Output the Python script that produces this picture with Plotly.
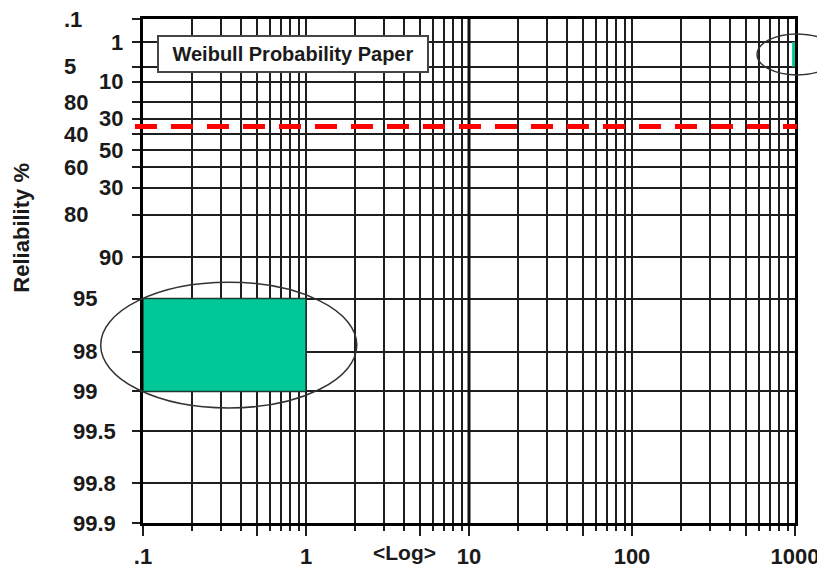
import math
import plotly.graph_objects as go

# ---------------- data ----------------
R_values = [0.1, 1, 5, 10, 20, 30, 40, 50, 60, 70, 80, 90, 95, 98, 99, 99.5, 99.8, 99.9]
R_labels = [".1", "1", "5", "10", "80", "30", "40", "50", "60", "30", "80", "90",
            "95", "98", "99", "99.5", "99.8", "99.9"]
x_major = [0.1, 0.5, 1, 5, 10, 50, 100, 500, 1000]
x_major_labels = [".1", "", "1", "", "10", "", "100", "", "1000"]
x_minor = [m * d for d in [0.1, 1, 10, 100] for m in [2, 3, 4, 6, 7, 8, 9]]
title_text = "Weibull Probability Paper"
y_title = "Reliability %"
x_title = "&lt;Log&gt;"
highlight_x = [0.1, 1]
highlight_R = [95, 99]
corner_x = [960, 1000]
corner_R = [1, 5]
ref_R = 35
ellipse1_x = [0.055, 2.05]
ellipse1_R = [93.4, 99.25]
ellipse2_x = [585, 1811]
ellipse2_R = [0.49, 7.5]
x_range = [0.1, 1000]
R_range = [99.9, 0.1]


def t(R):
    return math.log(-math.log(R / 100.0))


def xdom(x):
    lo, hi = math.log10(x_range[0]), math.log10(x_range[1])
    return (math.log10(x) - lo) / (hi - lo)


FONT = "Liberation Sans, Arial, sans-serif"
GRID = "#1e1e1e"
GW = 1.8

fig = go.Figure()
fig.add_trace(go.Scatter(x=x_range, y=[t(r) for r in R_range], mode="markers",
                         marker=dict(opacity=0), hoverinfo="skip", showlegend=False))

shapes = []
shapes.append(dict(type="line", xref="x", yref="y", x0=10, x1=10,
                   y0=t(R_range[0]), y1=t(R_range[1]),
                   line=dict(color="#111", width=3), layer="above"))
shapes.append(dict(type="rect", xref="x", yref="y",
                   x0=highlight_x[0], x1=highlight_x[1],
                   y0=t(highlight_R[0]), y1=t(highlight_R[1]),
                   fillcolor="#00C896", line=dict(color="#1d3b33", width=1.5), layer="above"))
shapes.append(dict(type="rect", xref="x", yref="y",
                   x0=corner_x[0], x1=corner_x[1],
                   y0=t(corner_R[0]), y1=t(corner_R[1]),
                   fillcolor="#00C896", line=dict(width=0), layer="above"))
for ex, eR in [(ellipse1_x, ellipse1_R), (ellipse2_x, ellipse2_R)]:
    shapes.append(dict(type="circle", xref="x domain", yref="y",
                       x0=xdom(ex[0]), x1=xdom(ex[1]), y0=t(eR[0]), y1=t(eR[1]),
                       line=dict(color="#333", width=1.5), layer="above"))
shapes.append(dict(type="line", xref="x domain", yref="y", x0=-0.0123, x1=1.003,
                   y0=t(ref_R), y1=t(ref_R),
                   line=dict(color="#FF0000", width=5, dash="22px,14px"), layer="above"))

annotations = []
for i, (rv, lab) in enumerate(zip(R_values, R_labels)):
    if i >= 12:
        ax_x, anchor = -0.1104, "left"
    elif i % 2 == 0:
        ax_x, anchor = -0.1242, "left"
    else:
        ax_x, anchor = -0.0276, "right"
    annotations.append(dict(xref="paper", yref="y", x=ax_x, y=t(rv), text=lab,
                            xanchor=anchor, yanchor="middle", showarrow=False,
                            font=dict(family=FONT, size=22, color="#1a1a1a", weight="bold")))
annotations.append(dict(xref="paper", yref="paper", x=-0.1856, y=0.586, text=y_title,
                        textangle=-90, showarrow=False, xanchor="center", yanchor="middle",
                        font=dict(family=FONT, size=22, color="#1a1a1a", weight="bold")))
annotations.append(dict(xref="paper", yref="paper", x=0.4018, y=-0.0595, text=x_title,
                        showarrow=False, xanchor="center", yanchor="middle",
                        font=dict(family=FONT, size=21, color="#1a1a1a", weight="bold")))
annotations.append(dict(xref="paper", yref="paper", x=0.230, y=0.9306, text=title_text,
                        showarrow=False, xanchor="center", yanchor="middle",
                        width=268, height=34, borderpad=0, borderwidth=2,
                        bordercolor="#444", bgcolor="white",
                        font=dict(family=FONT, size=20, color="#1a1a1a", weight="bold")))

fig.update_layout(
    width=817, height=565,
    margin=dict(l=135, r=30, t=11, b=50, autoexpand=False),
    paper_bgcolor="white", plot_bgcolor="white",
    showlegend=False,
    shapes=shapes, annotations=annotations,
    xaxis=dict(type="log", range=[math.log10(x_range[0]), math.log10(x_range[1])],
               automargin=False,
               tickmode="array", tickvals=x_major, ticktext=x_major_labels,
               ticks="outside", ticklen=10, tickwidth=GW, tickcolor=GRID,
               showgrid=True, gridcolor=GRID, gridwidth=GW,
               showline=True, linecolor="#000", linewidth=3, mirror=True,
               zeroline=False, ticklabelstandoff=2,
               tickfont=dict(family=FONT, size=22, color="#1a1a1a", weight="bold"),
               minor=dict(tickmode="array", tickvals=x_minor, ticks="outside", ticklen=5,
                          tickwidth=GW, tickcolor=GRID, showgrid=True,
                          gridcolor=GRID, gridwidth=GW)),
    yaxis=dict(range=[t(R_range[0]), t(R_range[1])], automargin=False,
               tickmode="array", tickvals=[t(r) for r in R_values],
               showticklabels=False, ticks="outside", ticklen=8, tickwidth=GW,
               tickcolor=GRID, showgrid=True, gridcolor=GRID, gridwidth=GW,
               showline=True, linecolor="#000", linewidth=3, mirror=True, zeroline=False),
)

fig.write_html("out.html")
